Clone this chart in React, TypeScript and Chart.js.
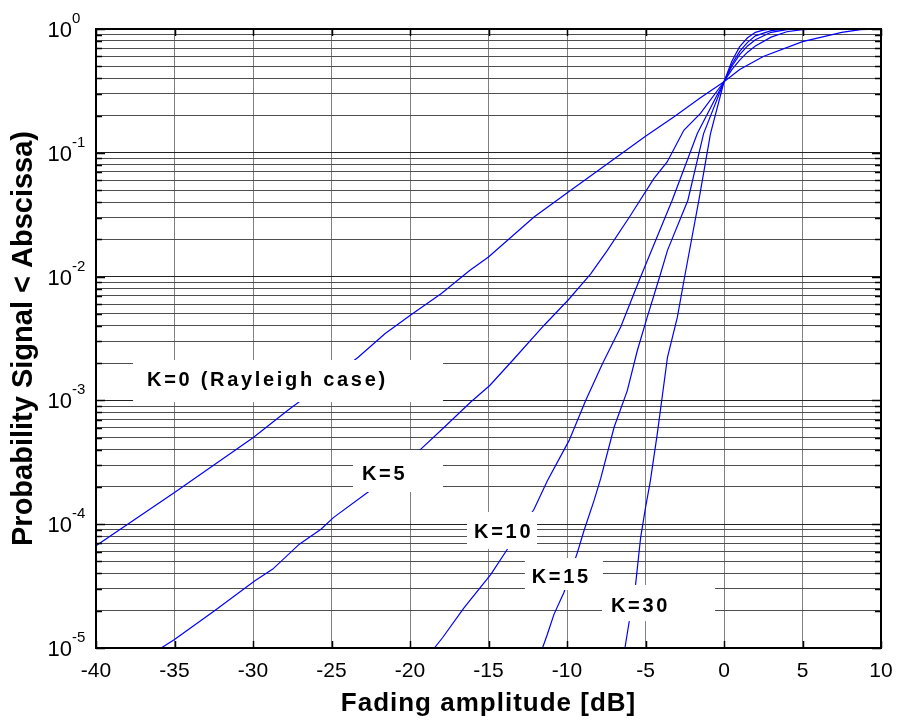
import React, { useEffect, useRef } from "react";
import { Chart, registerables } from "chart.js";

Chart.register(...registerables);

// ---- Data ----
const fadingK0 = [-40, -35, -30, -27.8, -25, -23.3, -21.6, -20, -18, -16.2, -15, -12.1, -10, -7.4, -5, -3.2, -1.5, 0, 1, 2.5, 5, 7.5, 8.7, 10];
const probK0 = [6.7e-5, 1.8e-4, 5.0e-4, 8.3e-4, 1.52e-3, 2.23e-3, 3.45e-3, 4.85e-3, 7.3e-3, 0.0112, 0.0144, 0.0303, 0.0474, 0.0818, 0.136, 0.195, 0.278, 0.375, 0.47, 0.6, 0.79, 0.94, 0.99, 1.0];

const fadingK5 = [-35.85, -35, -32.45, -29.9, -28.74, -27.05, -25.67, -24.88, -22.49, -19.41, -17.82, -16.13, -14.92, -13.37, -11.47, -9.91, -8.49, -7.43, -5.95, -4.47, -3.62, -2.56, -1.5, 0, 0.5, 1, 1.5, 2, 3, 4, 5, 6, 10];
const probK5 = [1.0e-5, 1.17e-5, 2.0e-5, 3.48e-5, 4.34e-5, 6.9e-5, 9.1e-5, 1.13e-4, 1.89e-4, 3.93e-4, 6.07e-4, 9.7e-4, 1.32e-3, 2.17e-3, 4.03e-3, 6.5e-3, 0.01054, 0.0163, 0.0313, 0.0619, 0.0843, 0.152, 0.208, 0.375, 0.47, 0.56, 0.65, 0.73, 0.86, 0.95, 0.99, 1.0, 1.0];

const fadingK10 = [-18.45, -17.93, -16.55, -14.85, -13.79, -12.1, -11.25, -9.87, -8.81, -7.75, -6.58, -5.74, -5.3, -3.3, -1.7, 0, 0.5, 1, 1.5, 2, 3, 4, 5, 10];
const probK10 = [1.0e-5, 1.21e-5, 2.12e-5, 3.94e-5, 6.3e-5, 1.32e-4, 2.24e-4, 4.73e-4, 1.0e-3, 1.97e-3, 3.91e-3, 7.28e-3, 0.01, 0.0414, 0.143, 0.375, 0.5, 0.62, 0.73, 0.82, 0.94, 0.99, 1.0, 1.0];

const fadingK15 = [-11.56, -11.25, -10.83, -10.19, -9.34, -8.92, -8.28, -7.86, -7.0, -6.16, -5.52, -4.89, -4.04, -3.6, -2.3, -1.3, 0, 0.5, 1, 1.5, 2, 3, 4, 10];
const probK15 = [1.0e-5, 1.29e-5, 1.87e-5, 2.82e-5, 5.9e-5, 8.85e-5, 1.55e-4, 2.32e-4, 6.07e-4, 1.2e-3, 2.53e-3, 4.7e-3, 0.01054, 0.0163, 0.0414, 0.143, 0.375, 0.52, 0.66, 0.78, 0.88, 0.97, 1.0, 1.0];

const fadingK30 = [-6.31, -6.05, -5.63, -5.31, -5.0, -4.7, -4.25, -3.6, -2.97, -2.55, -1.6, -0.86, 0, 0.5, 1, 1.5, 2, 2.5, 3, 10];
const probK30 = [1.0e-5, 1.6e-5, 3.27e-5, 7.8e-5, 1.36e-4, 2.2e-4, 5.36e-4, 2.23e-3, 4.7e-3, 9.3e-3, 0.0414, 0.143, 0.375, 0.55, 0.72, 0.85, 0.94, 0.98, 1.0, 1.0];

const seriesNames = ["K=0", "K=5", "K=10", "K=15", "K=30"];
const seriesX = [fadingK0, fadingK5, fadingK10, fadingK15, fadingK30];
const seriesY = [probK0, probK5, probK10, probK15, probK30];

const xTickValues = [-40, -35, -30, -25, -20, -15, -10, -5, 0, 5, 10];
const yDecadeExponents = [0, -1, -2, -3, -4, -5];
const yMinorMantissas = [1, 2, 3, 4, 5, 6, 7, 8, 9];

const xTitle = "Fading amplitude [dB]";
const yTitle = "Probability Signal < Abscissa)";

// Label annotations (text + white box), placed in data units
const labelTexts = ["K=0 (Rayleigh case)", "K=5", "K=10", "K=15", "K=30"];
const labelTextX = [-36.75, -23.06, -15.92, -12.25, -7.2];
const labelTextY = [1.46e-3, 2.54e-4, 8.57e-5, 3.71e-5, 2.18e-5];
const labelBoxX0 = [-37.64, -23.63, -16.37, -12.68, -7.77];
const labelBoxX1 = [-17.9, -17.9, -11.91, -7.71, -0.57];
const labelBoxYTop = [2.12e-3, 3.97e-4, 1.256e-4, 5.33e-5, 3.23e-5];
const labelBoxYBottom = [9.7e-4, 1.82e-4, 6.31e-5, 2.94e-5, 1.65e-5];

const FONT = "'Liberation Sans', Arial, Helvetica, sans-serif";

const yTickValues: number[] = [];
for (const e of yDecadeExponents.slice().reverse()) {
  for (const m of yMinorMantissas) {
    const v = m * Math.pow(10, e);
    if (v <= 1.0000001) yTickValues.push(v);
  }
}

const isMajor = (v: number) => {
  const l = Math.log10(v);
  return Math.abs(l - Math.round(l)) < 1e-6;
};

const overlayPlugin = {
  id: "overlay",
  afterDatasetsDraw(chart: any) {
    const { ctx, scales } = chart;
    const xs = scales.x;
    const ys = scales.y;
    ctx.save();
    for (let i = 0; i < labelTexts.length; i++) {
      const x0 = xs.getPixelForValue(labelBoxX0[i]);
      const x1 = xs.getPixelForValue(labelBoxX1[i]);
      const y0 = ys.getPixelForValue(labelBoxYTop[i]);
      const y1 = ys.getPixelForValue(labelBoxYBottom[i]);
      ctx.fillStyle = "#ffffff";
      ctx.fillRect(x0, y0, x1 - x0, y1 - y0);
      ctx.fillStyle = "#000000";
      ctx.font = `bold 20px ${FONT}`;
      (ctx as any).letterSpacing = "2.7px";
      ctx.textAlign = "left";
      ctx.textBaseline = "middle";
      ctx.fillText(labelTexts[i], xs.getPixelForValue(labelTextX[i]), ys.getPixelForValue(labelTextY[i]));
      (ctx as any).letterSpacing = "0px";
    }
    ctx.restore();
  },
  afterDraw(chart: any) {
    const { ctx, chartArea: a, scales } = chart;
    const xs = scales.x;
    const ys = scales.y;
    ctx.save();
    // inward tick marks
    ctx.strokeStyle = "#000";
    ctx.lineWidth = 1.5;
    ctx.beginPath();
    for (const v of xTickValues) {
      const px = Math.round(xs.getPixelForValue(v)) + 0.5;
      ctx.moveTo(px, a.bottom);
      ctx.lineTo(px, a.bottom - 7);
      ctx.moveTo(px, a.top);
      ctx.lineTo(px, a.top + 7);
    }
    for (const v of yTickValues) {
      const py = Math.round(ys.getPixelForValue(v)) + 0.5;
      const len = isMajor(v) ? 9 : 6;
      ctx.moveTo(a.left, py);
      ctx.lineTo(a.left + len, py);
      ctx.moveTo(a.right, py);
      ctx.lineTo(a.right - len, py);
    }
    ctx.stroke();
    // frame
    ctx.lineWidth = 2;
    ctx.strokeRect(a.left, a.top, a.right - a.left, a.bottom - a.top);

    // x tick labels
    ctx.fillStyle = "#000";
    ctx.font = `21px ${FONT}`;
    ctx.textAlign = "center";
    ctx.textBaseline = "middle";
    for (const v of xTickValues) {
      ctx.fillText(String(v), xs.getPixelForValue(v), a.bottom + 23);
    }
    // y tick labels: 10^e
    for (const e of yDecadeExponents) {
      const py = ys.getPixelForValue(Math.pow(10, e));
      ctx.font = `22px ${FONT}`;
      ctx.textAlign = "right";
      ctx.textBaseline = "middle";
      ctx.fillText("10", a.left - 24, py + 2);
      ctx.font = `15px ${FONT}`;
      ctx.textAlign = "left";
      ctx.textBaseline = "alphabetic";
      ctx.fillText(String(e), a.left - 24, py - 6);
    }
    // x title
    ctx.font = `bold 26px ${FONT}`;
    (ctx as any).letterSpacing = "1px";
    ctx.textAlign = "center";
    ctx.textBaseline = "middle";
    ctx.fillText(xTitle, (a.left + a.right) / 2, a.bottom + 56);
    (ctx as any).letterSpacing = "0px";
    // y title
    ctx.translate(32, (a.top + a.bottom) / 2);
    ctx.rotate(-Math.PI / 2);
    ctx.font = `bold 29px ${FONT}`;
    ctx.textAlign = "center";
    ctx.textBaseline = "alphabetic";
    ctx.fillText(yTitle, 0, 0);
    ctx.restore();
  },
};

export default function App() {
  const canvasRef = useRef<HTMLCanvasElement | null>(null);

  useEffect(() => {
    document.body.style.margin = "0";
    const canvas = canvasRef.current;
    if (!canvas) return;
    const datasets = seriesNames.map((name, i) => ({
      label: name,
      data: seriesX[i].map((x, j) => ({ x, y: seriesY[i][j] })),
      borderColor: "#0000ff",
      backgroundColor: "#0000ff",
      borderWidth: 1.2,
      pointRadius: 0,
      tension: 0,
      fill: false,
    }));
    const chart = new Chart(canvas, {
      type: "line",
      data: { datasets },
      options: {
        animation: false,
        responsive: true,
        maintainAspectRatio: false,
        layout: { padding: { left: 96, top: 29, right: 18, bottom: 75 } },
        plugins: {
          legend: { display: false },
          tooltip: { enabled: false },
          title: { display: false },
        },
        scales: {
          x: {
            type: "linear",
            min: -40,
            max: 10,
            afterBuildTicks: (scale: any) => {
              scale.ticks = xTickValues.map((v) => ({ value: v }));
            },
            ticks: { display: false },
            border: { display: false },
            grid: { color: "#808080", lineWidth: 1, drawTicks: false },
          },
          y: {
            type: "logarithmic",
            min: 1e-5,
            max: 1,
            afterBuildTicks: (scale: any) => {
              scale.ticks = yTickValues.map((v) => ({ value: v }));
            },
            ticks: { display: false },
            border: { display: false },
            grid: {
              drawTicks: false,
              lineWidth: 1,
              color: (c: any) => (c.tick && isMajor(c.tick.value) ? "#222222" : "#4e4e4e"),
            },
          },
        },
      } as any,
      plugins: [overlayPlugin],
    });
    return () => chart.destroy();
  }, []);

  return (
    <div style={{ width: 899, height: 723, position: "relative" }}>
      <canvas ref={canvasRef} />
    </div>
  );
}
